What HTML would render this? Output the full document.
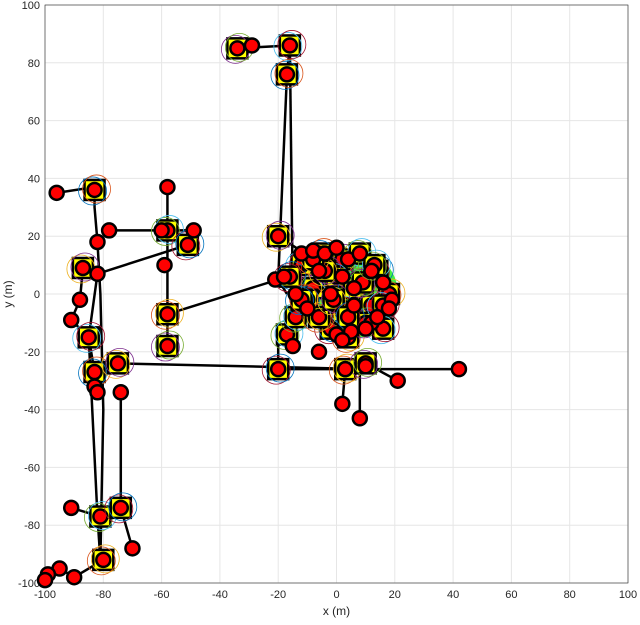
<!DOCTYPE html>
<html><head><meta charset="utf-8"><style>
body{margin:0;background:#fff;}
svg{display:block;font-family:"Liberation Sans",sans-serif;}
</style></head><body>
<svg id="c" width="640" height="625" viewBox="0 0 640 625"></svg>
<script>
const xTicks=[-100,-80,-60,-40,-20,0,20,40,60,80,100];
const yTicks=[-100,-80,-60,-40,-20,0,20,40,60,80,100];
const squaresX=[-83,-87,-58,-51,-58,-58,-85,-83,-75,-81,-74,-80,-34,-16,-17,-20,-17,-20,3,10,-12,-5,2,8,14,18,-8,0,6,12,-14,-2,4,10,16,-10,-4,2,-16,-6,9,16,-12,-1,13,4,-8];
const squaresY=[36,9,22,17,-7,-18,-15,-27,-24,-77,-74,-92,85,86,76,20,-14,-26,-26,-24,10,14,12,14,8,0,2,6,2,-4,-8,-12,-15,-10,-4,-2,8,-6,6,-8,4,-12,-2,-2,10,-8,12];
const dotsX=[-96,-82,-82,-78,-60,-58,-49,-59,-88,-91,-83,-82,-74,-91,-70,-95,-99,-100,-90,-29,42,21,2,8,3,10,-21,-18,-12,-8,-4,0,4,8,12,16,19,-14,-6,2,6,12,-10,0,5,14,18,-15,-6,2,10,-2,6];
const dotsY=[35,7,18,22,22,37,22,10,-2,-9,-32,-34,-34,-74,-88,-95,-97,-99,-98,86,-26,-30,-38,-43,-26,-25,5,6,14,15,14,16,12,14,8,4,-2,0,8,6,-4,-10,-5,-14,-13,-8,-5,-18,-20,-16,-12,0,2];
const pathX=[-96,-83,-83,-82,-81,-80,-81,-82,-85,-91,-88,-87,-82,-85,-83,-82,-83,-75,10,42];
const pathY=[35,37,30,18,0,-40,-92,-77,-15,-9,-2,9,7,-15,-27,-34,-27,-24,-26,-26];
const path2X=[-78,-58,-49];const path2Y=[22,22,22];
const path3X=[-58,-58,-58];const path3Y=[37,-7,-18];
const path4X=[-82,-51];const path4Y=[7,17];
const path5X=[-58,-20];const path5Y=[-7,5];
const path6X=[-34,-16,-17,-20,-17];const path6Y=[85,86,76,5,0];
const path7X=[-16,-15];const path7Y=[86,0];
const path8X=[-74,-74,-70];const path8Y=[-34,-74,-88];
const path9X=[-91,-81,-74];const path9Y=[-74,-77,-74];
const path10X=[-100,-95,-90,-80];const path10Y=[-99,-95,-98,-92];
const path11X=[-20,-20,3,2];const path11Y=[-14,-26,-26,-38];
const path12X=[10,21];const path12Y=[-24,-30];
const path13X=[8,8];const path13Y=[-24,-43];
const path14X=[-20,3];const path14Y=[20,5];

const L=45,R=628,T=5,B=583;
const sx=v=>L+(v+100)/200*(R-L), sy=v=>B-(v+100)/200*(B-T);
const svg=document.getElementById('c'),NS='http://www.w3.org/2000/svg';
function mk(t,a,p){const e=document.createElementNS(NS,t);for(const k in a)e.setAttribute(k,a[k]);(p||svg).appendChild(e);return e;}
const g=mk('g',{});


xTicks.forEach(v=>{mk('line',{x1:sx(v),x2:sx(v),y1:T,y2:B,stroke:'#e6e6e6'},g);
 const t=mk('text',{x:sx(v),y:B+15,'font-size':11,'text-anchor':'middle',fill:'#262626'});t.textContent=v;
 });
yTicks.forEach(v=>{mk('line',{x1:L,x2:R,y1:sy(v),y2:sy(v),stroke:'#e6e6e6'},g);
 const t=mk('text',{x:L-5,y:sy(v)+4,'font-size':11,'text-anchor':'end',fill:'#262626'});t.textContent=v;
 });
const box=mk('rect',{x:L,y:T,width:R-L,height:B-T,fill:'none',stroke:'#262626','stroke-width':0.6});

let t=mk('text',{x:(L+R)/2,y:B+32,'font-size':12,'text-anchor':'middle',fill:'#262626'});t.textContent='x (m)';

t=mk('text',{x:12,y:(T+B)/2,'font-size':12,'text-anchor':'middle',fill:'#262626',transform:`rotate(-90 12 ${(T+B)/2})`});t.textContent='y (m)';

const cloud=mk('circle',{cx:sx(6),cy:sy(0),r:44,fill:'#22ee22',opacity:0.85});

[[pathX,pathY],[path2X,path2Y],[path3X,path3Y],[path4X,path4Y],[path5X,path5Y],[path6X,path6Y],[path7X,path7Y],[path8X,path8Y],[path9X,path9Y],[path10X,path10Y],[path11X,path11Y],[path12X,path12Y],[path13X,path13Y],[path14X,path14Y]].forEach(([xs,ys])=>{
 const p=mk('polyline',{points:xs.map((x,i)=>sx(x)+','+sy(ys[i])).join(' '),fill:'none',stroke:'#000','stroke-width':2.5});
 });
const cols=['#0072bd','#d95319','#edb120','#7e2f8e','#77ac30','#4dbeee','#a2142f'];
squaresX.forEach((x,i)=>{
 const s=mk('rect',{x:sx(x)-10,y:sy(squaresY[i])-10,width:20,height:20,fill:'#ffff00',stroke:'#000','stroke-width':2.5});
 
 for(let k=0;k<2;k++){const c=mk('circle',{cx:sx(x)+(k?2:-2),cy:sy(squaresY[i])+(k?-1:1),r:14,fill:'none',stroke:cols[(i*2+k)%7],'stroke-width':0.8});
 }
 const d=mk('circle',{cx:sx(x),cy:sy(squaresY[i]),r:7,fill:'#ff0000',stroke:'#000','stroke-width':2.5});
 
});
dotsX.forEach((x,i)=>{
 const c=mk('circle',{cx:sx(x),cy:sy(dotsY[i]),r:7,fill:'#ff0000',stroke:'#000','stroke-width':2.5});
 });
</script>
</body></html>
